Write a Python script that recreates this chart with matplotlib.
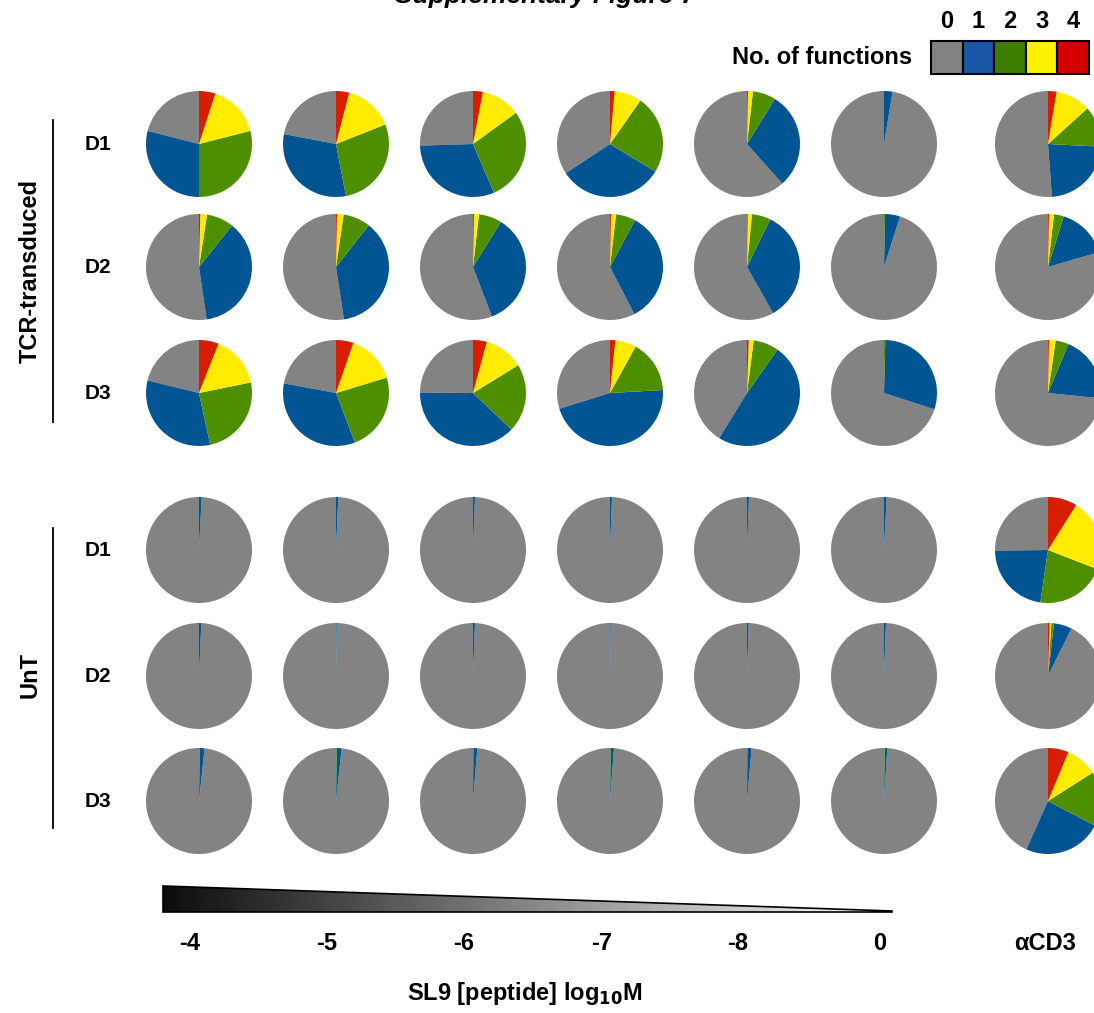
import matplotlib.pyplot as plt
import numpy as np
from matplotlib.patches import Polygon, Rectangle

plt.rcParams['font.family'] = ['Liberation Sans', 'DejaVu Sans']

# x labels (peptide concentration, log10 M) and row labels
conc_labels = ['-4', '-5', '-6', '-7', '-8', '0', '\u03b1CD3']
donors = ['D1', 'D2', 'D3', 'D1', 'D2', 'D3']
groups = ['TCR-transduced', 'UnT']

# % of cells with 0..4 functions; rows = TCR D1-D3, UnT D1-D3; cols = conc_labels
zero_fn = [[21, 22, 25.5, 34.3, 61.6, 97.4, 51.2],
           [52.3, 52.4, 55.8, 57.6, 58.2, 95.1, 79.5],
           [21.2, 22.1, 24.9, 29.8, 41, 70, 73.4],
           [99.2, 99.3, 99.4, 99.4, 99.4, 99.2, 25.2],
           [99.3, 99.8, 99.4, 99.8, 99.5, 99.4, 92.7],
           [98.3, 98.3, 98.7, 98.8, 98.6, 99, 43.3]]
one_fn = [[29, 31, 31, 32, 29.6, 2.6, 23],
          [37, 37, 35.4, 34.6, 34.6, 4.6, 15.7],
          [32.2, 33.7, 38, 46.1, 48.8, 29.6, 20.3],
          [0.8, 0.7, 0.6, 0.6, 0.6, 0.8, 22.5],
          [0.7, 0.2, 0.6, 0.2, 0.5, 0.6, 5.5],
          [1.5, 1.5, 1.2, 1.0, 1.3, 0.8, 24]]
two_fn = [[29, 28, 28.5, 24, 7, 0, 12.5],
          [8.3, 8.3, 7, 6, 5.7, 0.3, 3],
          [24.8, 23.9, 20.9, 16.1, 7.7, 0.4, 4],
          [0, 0, 0, 0, 0, 0, 21.4],
          [0, 0, 0, 0, 0, 0, 0.8],
          [0.2, 0.2, 0.1, 0.2, 0.1, 0.2, 16.7]]
three_fn = [[16, 15, 12, 8.3, 1.5, 0, 10.7],
            [2, 2, 1.5, 1.5, 1.3, 0, 1.5],
            [15.8, 15, 12, 6.4, 1.5, 0, 2],
            [0, 0, 0, 0, 0, 0, 22],
            [0, 0, 0, 0, 0, 0, 0.5],
            [0, 0, 0, 0, 0, 0, 9.7]]
four_fn = [[5, 4, 3, 1.4, 0.3, 0, 2.6],
           [0.4, 0.3, 0.3, 0.3, 0.2, 0, 0.3],
           [6, 5.3, 4.2, 1.6, 0.5, 0, 0.3],
           [0, 0, 0, 0, 0, 0, 8.9],
           [0, 0, 0, 0, 0, 0, 0.5],
           [0, 0, 0, 0, 0, 0, 6.3]]

pie_colors = ['#838383', '#005592', '#4e8f00', '#ffec00', '#d91e00']
leg_colors = ['#828282', '#1a57a6', '#3c7d00', '#fff200', '#d50000']

W, H = 1094, 1013
fig = plt.figure(figsize=(W / 100, H / 100), dpi=100)
ax = fig.add_axes([0, 0, 1, 1])

def Y(y):
    return H - y

col_x = [199, 336, 473, 610, 747, 884, 1048]
row_y = [144, 267, 393, 550, 676, 801]
rad = 53

for i in range(6):
    for j in range(7):
        vals = [zero_fn[i][j], one_fn[i][j], two_fn[i][j], three_fn[i][j], four_fn[i][j]]
        ax.pie(vals, colors=pie_colors, startangle=90, counterclock=True,
               center=(col_x[j], Y(row_y[i])), radius=rad,
               wedgeprops=dict(linewidth=0))

ax.set_xlim(0, W)
ax.set_ylim(0, H)
ax.set_aspect('equal')
ax.axis('off')

# title (cut off at the top in the original)
ax.text(545, Y(-4), 'Supplementary Figure 7', ha='center', va='center',
        fontsize=19, fontweight='bold', style='italic')

# legend
ax.text(912, Y(57), 'No. of functions', ha='right', va='center', fontsize=17, fontweight='bold')
bw = 31.6
for k, c in enumerate(leg_colors):
    x0 = 931 + k * bw
    ax.add_patch(Rectangle((x0, Y(74)), bw, 33, facecolor=c, edgecolor='black', lw=1.5))
    ax.text(x0 + bw / 2, Y(21), str(k), ha='center', va='center', fontsize=17, fontweight='bold')

# row labels
for i, d in enumerate(donors):
    ax.text(98, Y(row_y[i]), d, ha='center', va='center', fontsize=15, fontweight='bold')

# group labels + brackets
ax.plot([53, 53], [Y(120), Y(422)], color='black', lw=1.3)
ax.plot([53, 53], [Y(528), Y(828)], color='black', lw=1.3)
ax.text(30, Y(271), groups[0], rotation=90, ha='center', va='center', fontsize=17, fontweight='bold')
ax.text(30, Y(675), groups[1], rotation=90, ha='center', va='center', fontsize=17, fontweight='bold')

# gradient wedge
x_l, x_r, y_t, y_b = 163, 892, 886, 912
grad = np.linspace(0.05, 1.0, 256)[None, :] * np.ones((20, 1))
im = ax.imshow(grad, cmap='gray', vmin=0, vmax=1, aspect='auto',
               extent=(x_l, x_r, Y(y_b), Y(y_t)), zorder=1)
tri = Polygon([(x_l, Y(y_t)), (x_r, Y(y_b - 1)), (x_r, Y(y_b)), (x_l, Y(y_b))],
              closed=True, facecolor='none', edgecolor='black', lw=1.2, zorder=2)
ax.add_patch(tri)
im.set_clip_path(tri)

# x labels
tick_x = [190, 327, 464, 602, 738, 880, 1045]
for tx, lab in zip(tick_x, conc_labels):
    ax.text(tx, Y(943), lab, ha='center', va='center', fontsize=17, fontweight='bold')
ax.text(525, Y(993), r'SL9 [peptide] log$_{\mathbf{10}}$M', ha='center', va='center',
        fontsize=17, fontweight='bold')

ax.set_xlim(0, W)
ax.set_ylim(0, H)

fig.savefig('out.png', dpi=100)
